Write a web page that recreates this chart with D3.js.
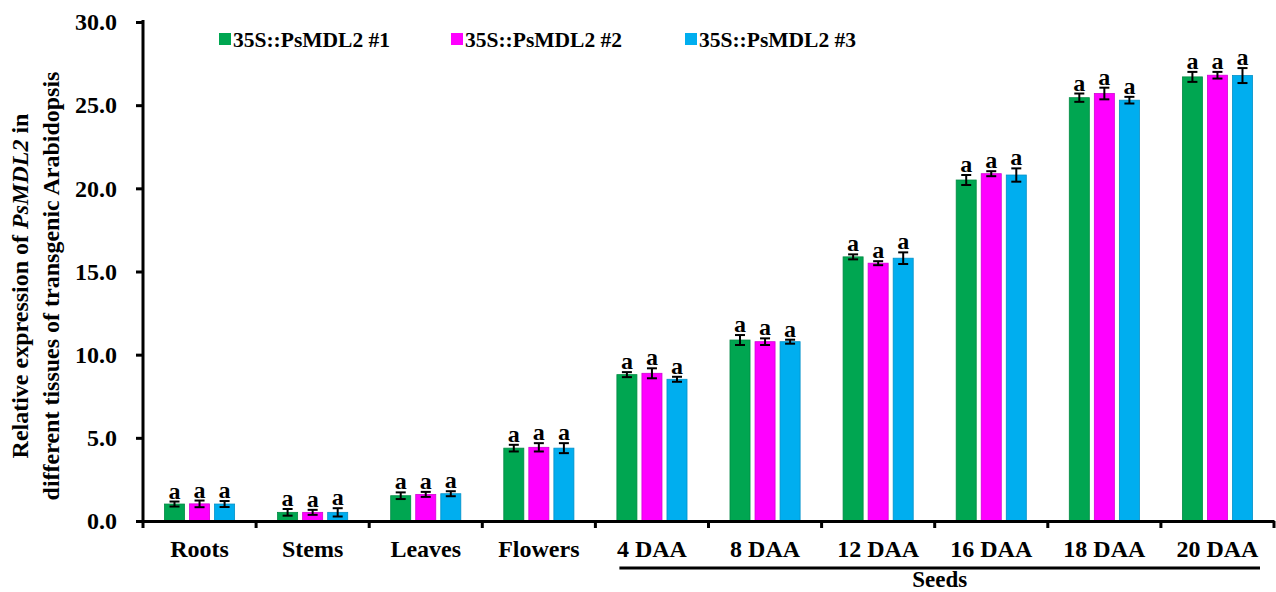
<!DOCTYPE html>
<html><head><meta charset="utf-8">
<script src="https://cdn.jsdelivr.net/npm/d3@7"></script>
<style>
html,body{margin:0;padding:0;background:#fff;}
svg text{font-weight:bold;fill:#000;}
</style></head>
<body><svg id="c" width="1276" height="592"></svg>
<script>
const categories = ["Roots","Stems","Leaves","Flowers","4 DAA","8 DAA","12 DAA","16 DAA","18 DAA","20 DAA"];
const seriesNames = ["35S::PsMDL2 #1","35S::PsMDL2 #2","35S::PsMDL2 #3"];
const line1 = [1.02,0.52,1.52,4.38,8.80,10.88,15.88,20.50,25.45,26.70];
const line2 = [1.03,0.52,1.60,4.43,8.88,10.78,15.50,20.88,25.70,26.80];
const line3 = [1.02,0.52,1.64,4.38,8.52,10.78,15.80,20.80,25.30,26.78];
const err1 = [0.15,0.20,0.20,0.20,0.15,0.30,0.15,0.30,0.25,0.30];
const err2 = [0.20,0.15,0.15,0.25,0.30,0.20,0.12,0.15,0.35,0.20];
const err3 = [0.18,0.25,0.15,0.30,0.15,0.12,0.35,0.40,0.20,0.45];
const letters = ["a","a","a","a","a","a","a","a","a","a"];
const yTicks = [0,5,10,15,20,25,30];
const seedCategories = ["4 DAA","8 DAA","12 DAA","16 DAA","18 DAA","20 DAA"];
const colors = ["#00A651","#FF00FF","#00AEEF"];
const strokes = ["#008a43","#d400d4","#0090c8"];

const FONT = "'Liberation Serif','Times New Roman',serif";
const values = [line1,line2,line3], errs = [err1,err2,err3];
const svg = d3.select("#c");
const x0 = 143, x1end = 1274, yBase = 521, yTop = 22;
const x = d3.scaleBand().domain(categories).range([x0, x1end]).padding(0);
const bw = x.bandwidth();
const xs = d3.scaleBand().domain(seriesNames).range([bw*0.19, bw*0.81]).paddingInner(0.2);
const y = d3.scaleLinear().domain([0,30]).range([yBase, yTop]);

seriesNames.forEach((s,si)=>{
  const g = svg.append("g");
  categories.forEach((c,ci)=>{
    const v = values[si][ci], e = errs[si][ci];
    const bx = x(c)+xs(s), w = xs.bandwidth(), cx = bx + w/2;
    g.append("rect").attr("x",bx).attr("y",y(v)).attr("width",w).attr("height",yBase-y(v))
      .attr("fill",colors[si]).attr("stroke",strokes[si]).attr("stroke-width",0.8);
    g.append("line").attr("x1",cx).attr("x2",cx).attr("y1",y(v+e)).attr("y2",y(v-e)).attr("stroke","#000").attr("stroke-width",2);
    [v+e,v-e].forEach(t=>g.append("line").attr("x1",cx-5).attr("x2",cx+5).attr("y1",y(t)).attr("y2",y(t)).attr("stroke","#000").attr("stroke-width",2));
    g.append("text").attr("x",cx).attr("y",y(v+e)-3).attr("text-anchor","middle").attr("style","font-family:"+FONT).attr("font-size",24).text(letters[ci]);
  });
});

const ya = svg.append("g").attr("transform",`translate(${x0},0)`)
  .call(d3.axisLeft(y).tickValues(yTicks).tickFormat(d3.format(".1f")).tickSize(7).tickPadding(19));
ya.select(".domain").attr("stroke","#000").attr("stroke-width",3).attr("d",`M-0,${yTop-2}V${yBase}`);
ya.selectAll(".tick line").attr("stroke","#000").attr("stroke-width",3);
ya.selectAll(".tick text").attr("font-size",24).attr("style","font-family:"+FONT).attr("font-weight","bold");

const xa = svg.append("g").attr("transform",`translate(0,${yBase})`)
  .call(d3.axisBottom(x).tickSize(0).tickPadding(19));
xa.select(".domain").attr("stroke","#000").attr("stroke-width",3);
xa.selectAll(".tick text").attr("font-size",24).attr("style","font-family:"+FONT).attr("font-weight","bold");
const bounds = categories.map(c=>x(c)).concat([x1end]);
xa.selectAll(".btick").data(bounds).enter().append("line")
  .attr("x1",d=>d).attr("x2",d=>d).attr("y1",0).attr("y2",7).attr("stroke","#000").attr("stroke-width",3);

const sx1 = x(seedCategories[0]) + 24, sx2 = x(seedCategories[seedCategories.length-1]) + bw - 14;
svg.append("line").attr("x1",sx1).attr("x2",sx2).attr("y1",568).attr("y2",568).attr("stroke","#000").attr("stroke-width",3);
svg.append("text").attr("x",(sx1+sx2)/2).attr("y",587).attr("text-anchor","middle").attr("style","font-family:"+FONT).attr("font-size",23).text("Seeds");

const yt = svg.append("g").attr("transform","translate(0,286) rotate(-90)");
const t1 = yt.append("text").attr("x",0).attr("y",28).attr("text-anchor","middle").attr("style","font-family:"+FONT).attr("font-size",24);
t1.append("tspan").text("Relative expression of ");
t1.append("tspan").attr("font-style","italic").text("PsMDL2");
t1.append("tspan").text(" in");
yt.append("text").attr("x",0).attr("y",59).attr("text-anchor","middle").attr("style","font-family:"+FONT).attr("font-size",24).text("different tissues of transgenic Arabidopsis");

const legX = [219, 451, 685];
seriesNames.forEach((s,i)=>{
  const g = svg.append("g").attr("transform",`translate(${legX[i]},33)`);
  g.append("rect").attr("x",0).attr("y",0).attr("width",12).attr("height",12).attr("fill",colors[i]);
  g.append("text").attr("x",14).attr("y",14).attr("style","font-family:"+FONT).attr("font-size",21.5).text(s);
});
</script></body></html>
